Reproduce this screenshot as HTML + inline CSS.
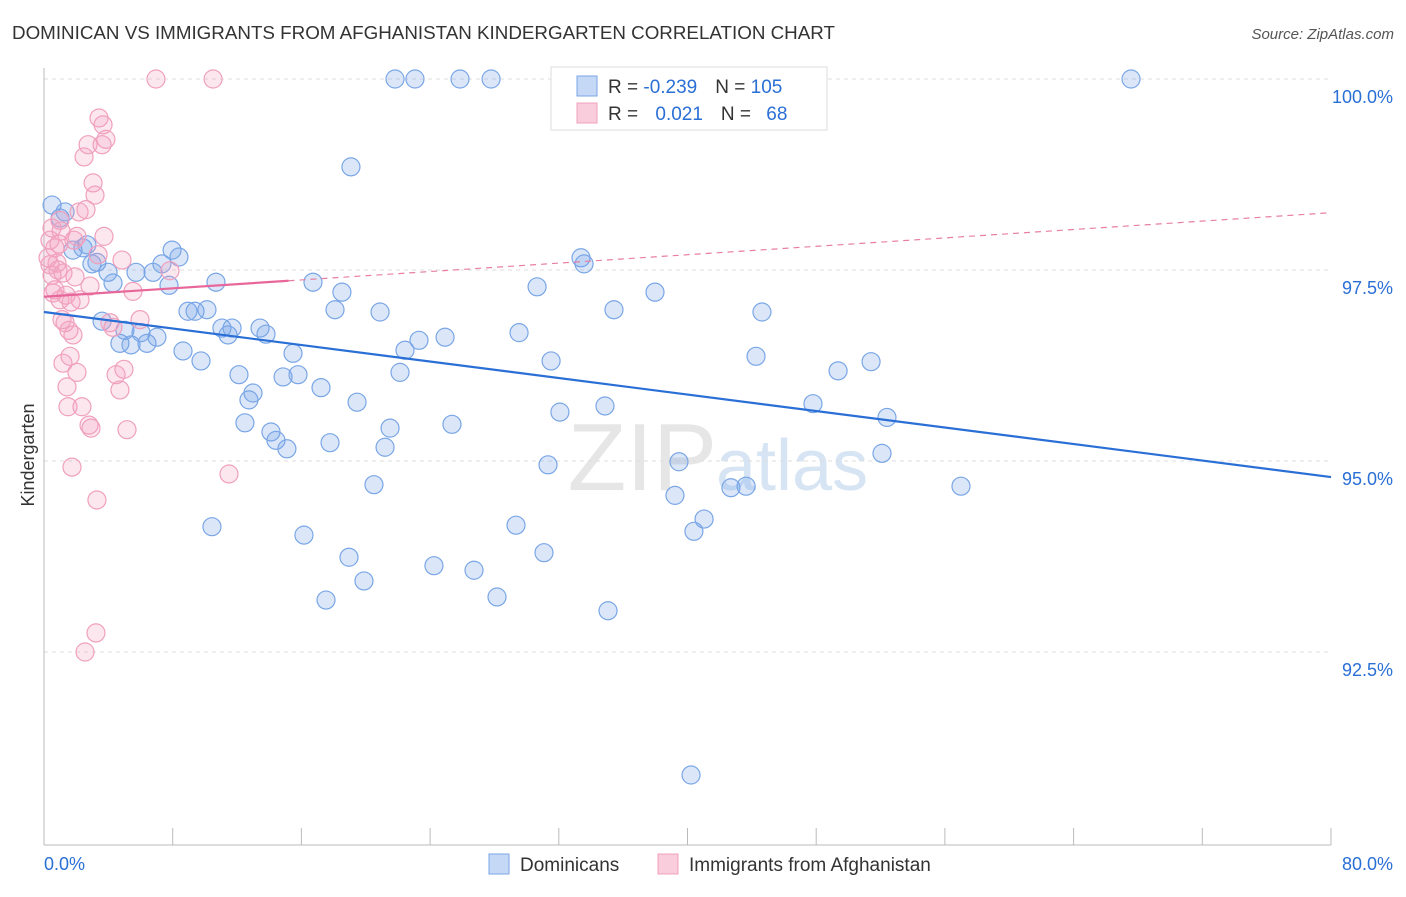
<!DOCTYPE html>
<html><head><meta charset="utf-8"><style>
body{margin:0;background:#fff;font-family:"Liberation Sans",sans-serif;}
svg text{font-family:"Liberation Sans",sans-serif;}
</style></head><body>
<svg id="chart" width="1406" height="892" xmlns="http://www.w3.org/2000/svg">
<text x="12" y="39" font-size="18.8" fill="#333">DOMINICAN VS IMMIGRANTS FROM AFGHANISTAN KINDERGARTEN CORRELATION CHART</text>
<text x="1394" y="39" font-size="15" fill="#555" text-anchor="end" font-style="italic">Source: ZipAtlas.com</text>
<text x="717" y="490" font-size="96" fill="#e6e6e6" text-anchor="end" font-family="Liberation Serif">ZIP</text>
<text x="716" y="490" font-size="72" fill="#d6e4f4">atlas</text>
<g id="grid"></g><g id="axes"></g><g id="pts"></g><g id="trend"></g>
<g>
<rect x="551" y="67" width="276" height="63" fill="#fff" stroke="#ddd"/>
<rect x="577" y="76" width="20" height="20" fill="#c5d8f5" stroke="#7aa6e6"/>
<rect x="577" y="103" width="20" height="20" fill="#f9cddb" stroke="#f0a0bc"/>
<text x="608" y="93" font-size="19" fill="#333">R = <tspan fill="#2a6fd6">-0.239</tspan><tspan dx="18">N = </tspan><tspan fill="#2a6fd6">105</tspan></text>
<text x="608" y="120" font-size="19" fill="#333">R = <tspan dx="12" fill="#2a6fd6">0.021</tspan><tspan dx="18">N = </tspan><tspan dx="10" fill="#2a6fd6">68</tspan></text>
</g>
<g>
<rect x="489" y="854" width="20" height="20" fill="#c5d8f5" stroke="#7aa6e6"/>
<text x="520" y="871" font-size="19" fill="#333">Dominicans</text>
<rect x="658" y="854" width="20" height="20" fill="#f9cddb" stroke="#f0a0bc"/>
<text x="689" y="871" font-size="19" fill="#333">Immigrants from Afghanistan</text>
</g>
<text transform="translate(34,455) rotate(-90)" font-size="18" fill="#333" text-anchor="middle">Kindergarten</text>
</svg>
<script>
const blueX=[0.50,1.00,1.31,1.80,2.67,2.42,2.98,3.29,3.98,4.29,3.61,4.72,5.03,5.41,6.03,6.40,7.02,5.72,6.78,7.33,7.77,7.96,8.39,8.64,8.95,9.39,9.76,10.13,10.44,10.69,11.06,11.44,11.69,12.12,12.49,12.74,12.99,13.43,13.80,14.11,14.42,14.86,15.10,15.48,15.79,16.16,16.72,17.22,17.53,17.78,18.09,18.52,18.96,19.08,19.46,19.89,20.51,20.89,21.20,21.51,21.82,22.13,22.44,23.06,23.31,24.24,24.93,25.36,25.86,26.73,27.79,28.16,29.34,29.53,30.65,31.08,31.33,31.52,32.07,32.51,33.38,33.57,34.87,35.06,35.43,37.98,39.22,39.47,40.22,40.40,41.03,42.70,43.64,44.26,44.63,47.80,49.36,51.41,52.09,52.40,57.00,67.57];
const blueY=[98.35,98.18,98.26,97.76,97.83,97.79,97.58,97.60,97.47,97.33,96.83,96.54,96.71,96.52,96.68,96.54,96.62,97.47,97.47,97.58,97.30,97.76,97.67,96.44,96.96,96.96,96.31,96.98,94.14,97.34,96.74,96.65,96.74,96.13,95.50,95.80,95.89,96.74,96.66,95.38,95.27,96.10,95.16,96.41,96.13,94.03,97.34,95.96,93.18,95.24,96.98,97.21,93.74,98.85,95.77,93.43,94.69,96.95,95.18,95.43,100,96.16,96.45,100,96.58,93.63,96.62,95.48,100,93.57,100,93.22,94.16,96.68,97.28,93.80,94.95,96.31,95.64,100,97.66,97.58,95.72,93.04,96.98,97.21,94.55,94.99,90.89,94.08,94.24,94.65,94.67,96.37,96.95,95.75,96.18,96.30,95.10,95.57,94.67,100];
const pinkX=[0.37,0.37,0.50,0.25,0.68,0.81,0.99,0.56,0.99,1.12,1.31,1.18,1.43,1.55,1.62,1.49,1.74,1.80,1.93,1.86,2.05,2.24,2.36,2.18,2.49,2.61,2.74,2.80,2.92,3.05,3.17,3.29,3.23,3.42,3.61,3.67,3.73,3.85,2.55,4.10,4.29,4.48,4.72,4.85,4.97,5.16,5.53,5.97,6.96,7.83,10.51,11.50,3.36,0.68,1.18,0.50,2.86,1.06,1.37,2.05,1.68,0.93,0.87];
const pinkY=[97.89,97.57,97.43,97.66,97.79,97.59,98.15,97.20,97.11,96.85,96.81,96.28,95.97,96.71,96.37,95.71,94.92,96.65,97.41,97.89,96.16,97.11,95.71,98.26,98.98,98.29,99.14,95.47,95.43,98.64,98.48,94.49,92.75,99.49,99.14,99.40,97.94,99.21,92.50,96.81,96.75,96.13,95.93,97.63,96.20,95.41,97.22,96.85,100,97.49,100,94.83,97.70,97.24,97.46,98.05,97.29,98.01,97.17,97.94,97.08,97.84,97.50];
const yTicks=[100,97.5,95,92.5];
const yTickLabels=["100.0%","97.5%","95.0%","92.5%"];
const xTicks=[0,8,16,24,32,40,48,56,64,72,80];
const blueTrend=[96.95,94.79];
const pinkTrend=[97.15,98.25];
const pinkSolidEnd=15.2;

const X=v=>44+v/80*1287;
const Y=v=>79+(100-v)/2.5*191;
const NS='http://www.w3.org/2000/svg';
function mk(tag,attrs,parent){const e=document.createElementNS(NS,tag);for(const k in attrs)e.setAttribute(k,attrs[k]);document.getElementById(parent).appendChild(e);return e;}
yTicks.forEach((t,i)=>{
  const g=mk('line',{x1:44,x2:1331,y1:Y(t),y2:Y(t),stroke:'#ddd','stroke-dasharray':'4,4'},'grid');
  
  
  const l=mk('text',{x:1393,y:Y(t)+24,'font-size':18,fill:'#2a6fd6','text-anchor':'end'},'axes');
  l.textContent=yTickLabels[i];
  
  
});
const ax=mk('line',{x1:44,x2:1331,y1:845,y2:845,stroke:'#bbb'},'axes');


const ay=mk('line',{x1:44,x2:44,y1:68,y2:845,stroke:'#bbb'},'axes');


xTicks.forEach(t=>{
  const l=mk('line',{x1:X(t),x2:X(t),y1:828,y2:845,stroke:'#bbb'},'axes');
  
  
});
const x0=mk('text',{x:44,y:870,'font-size':18,fill:'#2a6fd6'},'axes');x0.textContent='0.0%';


const x1=mk('text',{x:1393,y:870,'font-size':18,fill:'#2a6fd6','text-anchor':'end'},'axes');x1.textContent='80.0%';


blueX.forEach((v,i)=>{
  const c=mk('circle',{cx:X(v),cy:Y(blueY[i]),r:9,fill:'rgba(110,160,230,0.25)',stroke:'#7aa6e6','stroke-width':1.2},'pts');
  
  
});
pinkX.forEach((v,i)=>{
  const c=mk('circle',{cx:X(v),cy:Y(pinkY[i]),r:9,fill:'rgba(245,160,190,0.25)',stroke:'#f0a0bc','stroke-width':1.2},'pts');
  
  
});
const bl=mk('line',{x1:X(0),y1:Y(blueTrend[0]),x2:X(80),y2:Y(blueTrend[1]),stroke:'#2a6fd6','stroke-width':2.2},'trend');


const pAt=x=>pinkTrend[0]+(pinkTrend[1]-pinkTrend[0])*x/80;
const pd=mk('line',{x1:X(pinkSolidEnd),y1:Y(pAt(pinkSolidEnd)),x2:X(80),y2:Y(pinkTrend[1]),stroke:'#e87fa3','stroke-width':1.2,'stroke-dasharray':'6,5'},'trend');


const ps=mk('line',{x1:X(0),y1:Y(pinkTrend[0]),x2:X(pinkSolidEnd),y2:Y(pAt(pinkSolidEnd)),stroke:'#e8679a','stroke-width':2.2},'trend');


</script>
</body></html>
